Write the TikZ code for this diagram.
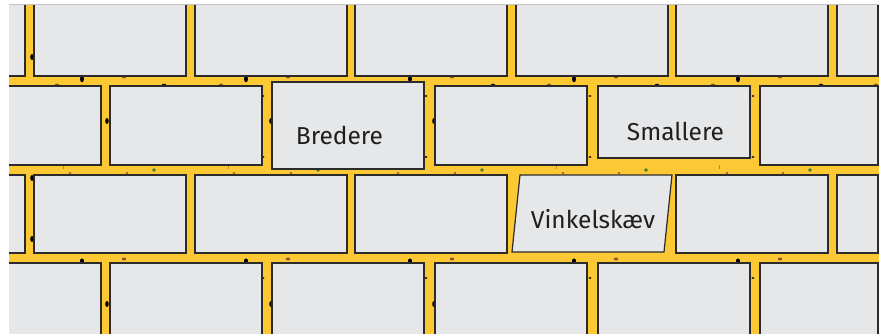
\documentclass[tikz,border=0pt]{standalone}
\usepackage{fontspec}
\setmainfont{Fira Sans}
\usetikzlibrary{positioning}
\definecolor{mortar}{HTML}{FCC834}
\definecolor{stone}{HTML}{E6E7E9}
\definecolor{edgegrey}{HTML}{2B2B2B}
\definecolor{rust}{HTML}{8A5A2E}
\definecolor{moss}{HTML}{3D7A2C}
\definecolor{framegrey}{HTML}{C4C4C4}
\tikzset{
  brick/.style={draw=edgegrey, fill=stone, line width=1.2pt},
  spacer/.style={fill=black},
  rustdot/.style={fill=rust},
  mossdot/.style={fill=moss},
  brickname/.style={font=\fontsize{24.5}{29}\selectfont, text=black!88, inner sep=0pt, anchor=base},
}

\begin{document}
\begin{tikzpicture}[x=1pt, y=-1pt]
\useasboundingbox (0,0) rectangle (879,334);
\begin{scope}
\clip (9,5) rectangle (879,334);
\fill[mortar] (9,5) rectangle (879,334);
% joint between rows 1 and 2
\foreach \x in {82,246,410,574,738}
  \fill[spacer] (\x,79) ellipse [x radius=2pt, y radius=3.3pt];
\foreach \x in {124,288,452,616,780}
  \fill[rustdot] (\x,77) ellipse [x radius=2.3pt, y radius=1.4pt];
\foreach \x in {57,221,549,713,876}
  \fill[rustdot] (\x,85) ellipse [x radius=2.3pt, y radius=1.4pt];
\foreach \x in {164,493,657,821}
  \fill[spacer] (\x,85) ellipse [x radius=2.2pt, y radius=1.3pt];
% vertical joints, rows 1 to 4
\fill[spacer] (32,57) ellipse [x radius=1.8pt, y radius=3pt];
\fill[spacer] (32,178) ellipse [x radius=1.8pt, y radius=3pt];
\fill[spacer] (32,239) ellipse [x radius=1.8pt, y radius=3pt];
\foreach \x in {107,271,434} {
  \fill[spacer] (\x,121) ellipse [x radius=1.8pt, y radius=3pt];
  \fill[spacer] (\x,304) ellipse [x radius=1.8pt, y radius=3pt];
}
\foreach \x in {263,426,590,753} {
  \fill[spacer] (\x,96) ellipse [x radius=1.6pt, y radius=0.9pt];
  \fill[spacer] (\x,157) ellipse [x radius=1.6pt, y radius=0.9pt];
  \fill[spacer] (\x,278) ellipse [x radius=1.6pt, y radius=0.9pt];
}
% joint between rows 2 and 3
\foreach \x in {154,318,482,646,810}
  \fill[mossdot] (\x,170) circle [radius=1.8pt];
\foreach \x in {70,127,234,291,398,455,563,619,727,783}
  \fill[rustdot] (\x,173) ellipse [x radius=1.6pt, y radius=0.9pt];
\foreach \x in {63,228,392,556,719}
  \draw[mortar!70!black, line width=0.4pt] (\x,165) -- (\x,169);
% joint between rows 3 and 4
\foreach \x in {82,246,410,574,738}
  \fill[spacer] (\x,261) ellipse [x radius=2pt, y radius=2.6pt];
\foreach \x in {124,288,452,616,780}
  \fill[rustdot] (\x,259) ellipse [x radius=2.3pt, y radius=1.5pt];
% rows 1 and 3
\foreach \xa/\xb in {-10/25, 34/186, 195/347, 355/507, 516/668, 676/828, 837/878}
  \draw[brick] (\xa,-5) rectangle (\xb,76);
\foreach \xa/\xb in {-10/25, 34/186, 195/347, 355/507, 676/828, 837/878}
  \draw[brick] (\xa,175) rectangle (\xb,253);
\draw[brick] (520,175) -- (672,175) -- (664,252) -- (512,252) -- cycle;
% rows 2 and 4
\foreach \xa/\xb in {-10/101, 110/262, 435/587, 760/878}
  \draw[brick] (\xa,86) rectangle (\xb,165);
\draw[brick] (272,82) rectangle (424,169);
\draw[brick] (598,86) rectangle (750,158);
\foreach \xa/\xb in {-10/101, 110/262, 272/424, 435/587, 598/750, 760/878}
  \draw[brick] (\xa,263) rectangle (\xb,345);
\end{scope}
\draw[framegrey, line width=0.8pt] (9,4.6) -- (879,4.6);
\node[brickname] (bredere) at (339.5,145) {Bredere};
\node[brickname] (smallere) at (675.5,141) {Smallere};
\node[brickname] (vinkel) at (593,229) {Vinkelskæv};
\end{tikzpicture}
\end{document}
